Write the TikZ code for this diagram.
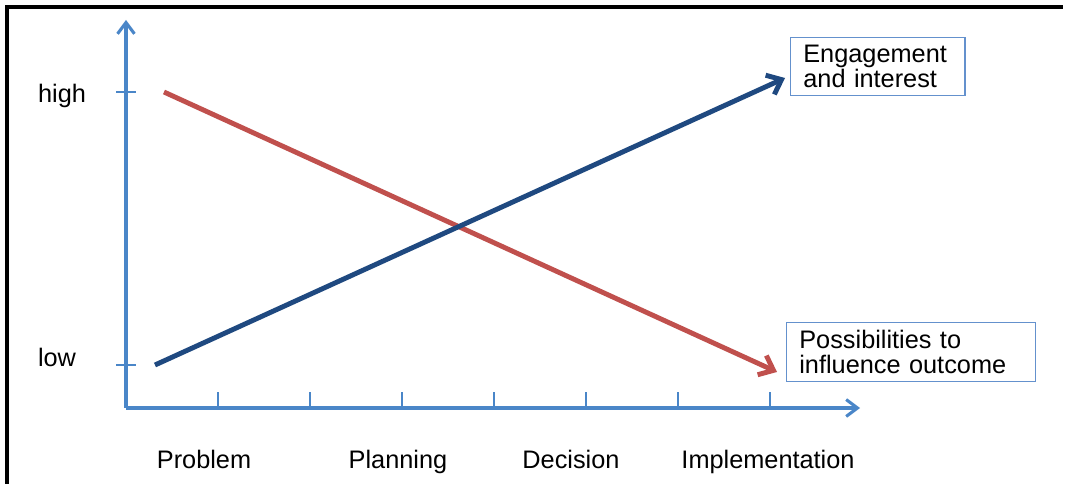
\documentclass[tikz,border=0pt]{standalone}
\usepackage{fontspec}
\setmainfont{Liberation Sans}
\usetikzlibrary{arrows.meta}
\definecolor{axisblue}{RGB}{74,134,200}
\definecolor{navy}{RGB}{31,73,128}
\definecolor{redline}{RGB}{192,80,77}
\definecolor{boxblue}{RGB}{100,145,205}
\tikzset{
  txt/.style={font=\fontsize{18}{17.5}\selectfont, anchor=base},
  lbl/.style={txt, draw=boxblue, line width=1pt, align=left, inner xsep=9pt, inner ysep=5.5pt, anchor=north west},
  axis/.style={axisblue, line width=2.2pt, -{Straight Barb[length=8pt,width=12pt]}},
  trend/.style={line width=3.5pt, -{Straight Barb[length=9pt,width=15pt]}}
}

\begin{document}
\begin{tikzpicture}[x=0.025cm,y=-0.025cm]
    \useasboundingbox (0,0) rectangle (1067,484);
    \draw[line width=2.4pt] (7,484) -- (7,7) -- (1063,7);
%% axes and ticks
    \coordinate (origin) at (126,408);
    \coordinate (ytop) at (126,20);
    \coordinate (xend) at (860,408);
    \draw[axis] (origin) -- (ytop);
    \draw[axis] (origin) -- (xend);
    \foreach \i in {1,...,7}
        \draw[axisblue, line width=1.5pt] (126+92*\i,408) -- (126+92*\i,392);
    \draw[axisblue, line width=1.5pt] (116,92) -- (136,92);
    \draw[axisblue, line width=1.5pt] (116,365) -- (136,365);
    \node[txt] (high) at (62,103) {high};
    \node[txt] (low) at (57,367) {low};
%% phases
    \node[txt] (problem) at (204,469) {Problem};
    \node[txt] (planning) at (398,469) {Planning};
    \node[txt] (decision) at (571,469) {Decision};
    \node[txt] (implementation) at (768,469) {Implementation};
%% boxes
    \node[lbl, text width=106pt] (engage) at (790,37) {Engagement\\and interest};
    \node[lbl, text width=159pt] (influence) at (786,322) {Possibilities to\\influence outcome};
%% trends
    \coordinate (redstart) at (164,92);
    \coordinate (redend) at (777,372);
    \coordinate (bluestart) at (155,365);
    \coordinate (blueend) at (785,78);
    \draw[trend, redline] (redstart) -- (redend);
    \draw[trend, navy] (bluestart) -- (blueend);
\end{tikzpicture}
\end{document}
